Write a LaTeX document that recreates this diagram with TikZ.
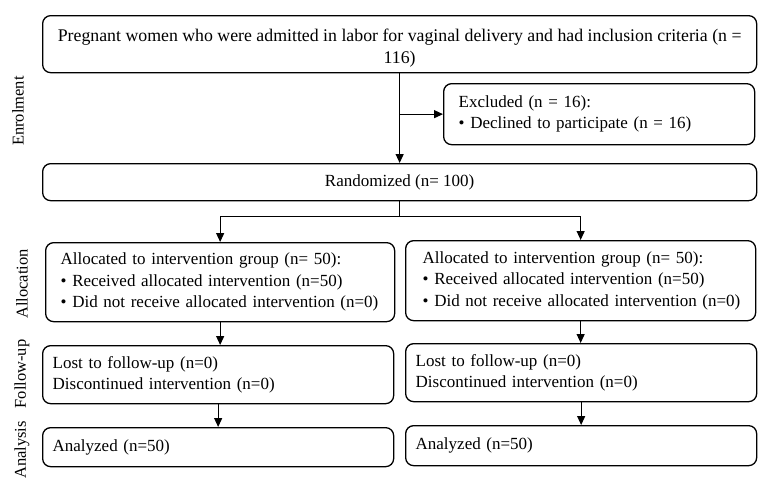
\documentclass[tikz,border=0pt]{standalone}
\usepackage{fontspec}
\setmainfont{Liberation Serif}
\usetikzlibrary{arrows.meta}
\begin{document}
\begin{tikzpicture}[x=1pt,y=-1pt,
  box/.style={draw, line width=1.3pt, rounded corners=8pt, anchor=north west, inner sep=0pt, font=\fontsize{17}{21.5}\selectfont},
  conn/.style={line width=1.2pt},
  arr/.style={conn, -{Triangle[length=9pt,width=8pt]}},
  side/.style={rotate=90, font=\fontsize{16.5}{18}\selectfont}]
\useasboundingbox (0,0) rectangle (765,490);
\node[box, minimum width=714pt, minimum height=57pt, align=center, font=\fontsize{17.8}{22}\selectfont] (top) at (42,15)
  {\rule{0pt}{20pt}Pregnant women who were admitted in labor for vaginal delivery and had inclusion criteria (n =\\116)};
\node[box, minimum width=311pt, minimum height=61pt, text width=311pt, align=left] (excl) at (443,83)
  {\hspace*{15pt}Excluded (n = 16):\\\hspace*{15pt}\textbullet\ Declined to participate (n = 16)};
\node[box, minimum width=714pt, minimum height=37pt, align=center] (rand) at (42,163) {Randomized (n= 100)};
\node[box, minimum width=349pt, minimum height=79pt, text width=349pt, align=left] (allocL) at (45,242)
  {\hspace*{15pt}Allocated to intervention group (n= 50):\\\hspace*{15pt}\textbullet\ Received allocated intervention (n=50)\\\hspace*{15pt}\textbullet\ Did not receive allocated intervention (n=0)};
\node[box, minimum width=350pt, minimum height=80pt, text width=350pt, align=left] (allocR) at (405,240)
  {\hspace*{17pt}Allocated to intervention group (n= 50):\\\hspace*{17pt}\textbullet\ Received allocated intervention (n=50)\\\hspace*{17pt}\textbullet\ Did not receive allocated intervention (n=0)};
\node[box, minimum width=351pt, minimum height=58pt, text width=351pt, align=left] (folL) at (42,345)
  {\hspace*{10pt}Lost to follow-up (n=0)\\\hspace*{10pt}Discontinued intervention (n=0)};
\node[box, minimum width=351pt, minimum height=58pt, text width=351pt, align=left] (folR) at (405,343)
  {\hspace*{10pt}Lost to follow-up (n=0)\\\hspace*{10pt}Discontinued intervention (n=0)};
\node[box, minimum width=351pt, minimum height=39pt, text width=351pt, align=left] (anaL) at (42,427)
  {\hspace*{10pt}Analyzed (n=50)};
\node[box, minimum width=351pt, minimum height=40pt, text width=351pt, align=left] (anaR) at (405,425)
  {\hspace*{10pt}Analyzed (n=50)};
\node[side] (lenr) at (18,111) {Enrolment};
\node[side] (lall) at (22,284) {Allocation};
\node[side] (lfol) at (22,374) {Follow-up};
\node[side] (lana) at (22,450) {Analysis};
\draw[arr] (top.south) -- (rand.north);
\draw[arr] (excl.west -| top.south) -- (excl.west);
\draw[conn] (rand.south) -- ++(0,15) coordinate (split);
\draw[arr] (split) -| (allocL.north);
\draw[arr] (split) -| (allocR.north);
\draw[arr] (allocL.south) -- (folL.north -| allocL.south);
\draw[arr] (allocR.south) -- (folR.north -| allocR.south);
\draw[arr] (folL.south) -- (anaL.north);
\draw[arr] (folR.south) -- (anaR.north);
\end{tikzpicture}
\end{document}
